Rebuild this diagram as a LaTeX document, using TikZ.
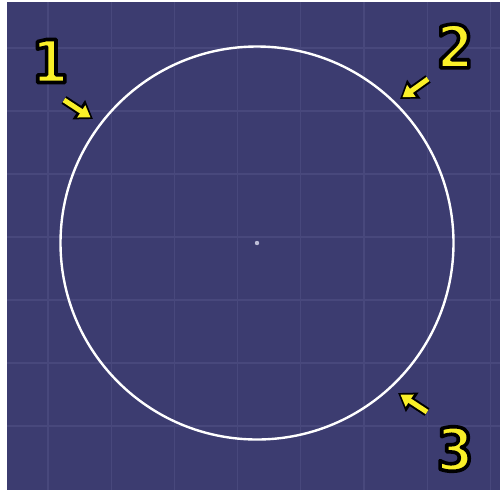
\documentclass[tikz,border=0pt]{standalone}
\usepackage{fontspec}
\setmainfont{Liberation Sans}
\newfontfamily\numfont{DejaVu Sans Condensed Bold}
\usetikzlibrary{arrows.meta}
\definecolor{bgblue}{RGB}{60,60,112}
\definecolor{gridblue}{RGB}{72,72,124}
\definecolor{markyellow}{RGB}{250,240,40}
\definecolor{dotgray}{RGB}{190,190,215}
% gelbe Ziffer mit schwarzem Rand (Textmodus 2: fuellen und umranden)
\newcommand{\outlined}[1]{\textcolor{markyellow}{\special{pdf:literal direct 2 Tr 1 j 3.6 w 0 0 0 RG}#1\special{pdf:literal direct 0 Tr}}}
\tikzset{
  gridline/.style={gridblue, line width=1.3pt},
  numlabel/.style={font=\numfont\fontsize{59}{59}\selectfont, inner sep=0pt},
  arrowout/.style={black, line width=9pt, -{Triangle[length=17pt,width=22pt]}},
  arrowin/.style={markyellow, line width=5pt, shorten >=3pt, -{Triangle[length=11pt,width=14pt]}}
}
\begin{document}
\begin{tikzpicture}[x=1pt, y=-1pt]
  \useasboundingbox (0,0) rectangle (500,491);
  % Hintergrund
  \fill[white] (0,0) rectangle (500,491);
  \fill[bgblue] (7,2) rectangle (500,490);

  % Raster
  \foreach \k in {0,...,7}
    \draw[gridline] ({48+63.2*\k},2) -- ({48+63.2*\k},490);
  \foreach \k in {0,...,6}
    \draw[gridline] (7,{48+63*\k}) -- (500,{48+63*\k});

  % Kreis und Mittelpunkt
  \node[circle, draw=white, line width=2.4pt, minimum size=393pt, inner sep=0pt] (ring) at (257,243) {};
  \fill[dotgray] (ring.center) circle (2.2pt);

  % Pfeilpunkte
  \coordinate (t1) at (64,100);
  \coordinate (h1) at (93,119);
  \coordinate (t2) at (428,79);
  \coordinate (h2) at (400,99);
  \coordinate (t3) at (427,412);
  \coordinate (h3) at (398,393);

  % Pfeile
  \foreach \i in {1,2,3} {
    \draw[arrowout] (t\i) -- (h\i);
    \draw[arrowin] (t\i) -- (h\i);
  }

  % Nummern
  \node[numlabel] (n1) at (50,61) {\outlined{1}};
  \node[numlabel] (n2) at (455,46) {\outlined{2}};
  \node[numlabel] (n3) at (455,449) {\outlined{3}};
\end{tikzpicture}
\end{document}
